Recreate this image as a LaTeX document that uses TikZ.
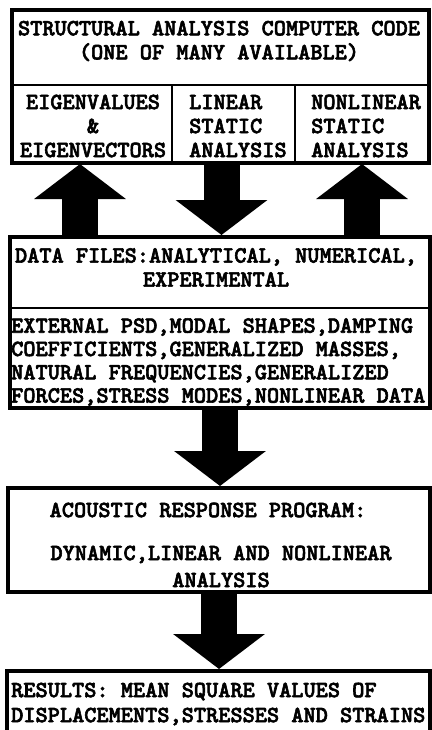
\documentclass[tikz,border=0pt]{standalone}
\usepackage{fontspec}
\newfontfamily\codefont{lmmonolt10-bold}[Extension=.otf, FakeBold=2.5]
\usetikzlibrary{arrows.meta}

\tikzset{
	box/.style={draw, rectangle, line width=4pt, inner sep=0pt},
	cell/.style={draw, rectangle, line width=2pt, inner sep=0pt},
	txt/.style={font=\fontsize{23.2}{24}\selectfont\codefont\frenchspacing, inner sep=0pt},
	bigarrow/.style={line width=36pt, -{Triangle[length=35pt,width=90pt]}}
}

\begin{document}
\begin{tikzpicture}[x=1pt,y=-1pt]
		\useasboundingbox (0,0) rectangle (431,730);
		
		\node(2) at (92,124)[cell, minimum width=160pt, minimum height=78pt]{};
		\node(3) at (233.5,124)[cell, minimum width=123pt, minimum height=78pt]{};
		\node(4) at (362,124)[cell, minimum width=134pt, minimum height=78pt]{};
		\node(1) at (220.5,86.5)[box, minimum width=417pt, minimum height=153pt]{};
		\node(6) at (220,272.5)[cell, minimum width=420pt, minimum height=71pt]{};
		\node(7) at (220,358)[cell, minimum width=420pt, minimum height=100pt]{};
		\node(5) at (220,322.5)[box, minimum width=420pt, minimum height=171pt]{};
		\node(8) at (219,540)[box, minimum width=422pt, minimum height=104pt]{};
		\node(9) at (218.5,708)[box, minimum width=423pt, minimum height=74pt]{};
		
		\node(t1) at (219,41)[txt, align=center]{STRUCTURAL ANALYSIS COMPUTER CODE\\(ONE OF MANY AVAILABLE)};
		\node(t2) at (93,126)[txt, align=center]{EIGENVALUES\\\&\\EIGENVECTORS};
		\node(t3) at (189,126)[txt, anchor=west, align=left]{LINEAR\\STATIC\\ANALYSIS};
		\node(t4) at (311,126)[txt, anchor=west, align=left]{NONLINEAR\\STATIC\\ANALYSIS};
		\node(t5) at (216,267.5)[txt, align=center]{DATA FILES:ANALYTICAL, NUMERICAL,\\EXPERIMENTAL};
		\node(t6) at (11,362)[txt, anchor=west, align=left, font=\fontsize{23.2}{23.3}\selectfont\codefont]{EXTERNAL PSD,MODAL SHAPES,DAMPING\\COEFFICIENTS,GENERALIZED MASSES,\\NATURAL FREQUENCIES,GENERALIZED\\FORCES,STRESS MODES,NONLINEAR DATA};
		\node(t7) at (208,510)[txt]{ACOUSTIC RESPONSE PROGRAM:};
		\node(t8) at (221,566.5)[txt, align=center, font=\fontsize{23.2}{27}\selectfont\codefont]{DYNAMIC,LINEAR AND NONLINEAR\\ANALYSIS};
		\node(t9) at (11,704)[txt, anchor=west, align=left, font=\fontsize{23.2}{25}\selectfont\codefont\frenchspacing]{RESULTS: MEAN SQUARE VALUES OF\\DISPLACEMENTS,STRESSES AND STRAINS};
		
			\draw[bigarrow] ([xshift=-12pt]2.south |- 5.north) -- ([xshift=-12pt]2.south);
			\draw[bigarrow] ([xshift=-12pt]3.south) -- ([xshift=-12pt]3.south |- 5.north);
			\draw[bigarrow] (4.south |- 5.north) -- (4.south);
			\draw[bigarrow] (5.south) -- (5.south |- 8.north);
			\draw[bigarrow] (8.south) -- (8.south |- 9.north);
		
	\end{tikzpicture}
\end{document}
